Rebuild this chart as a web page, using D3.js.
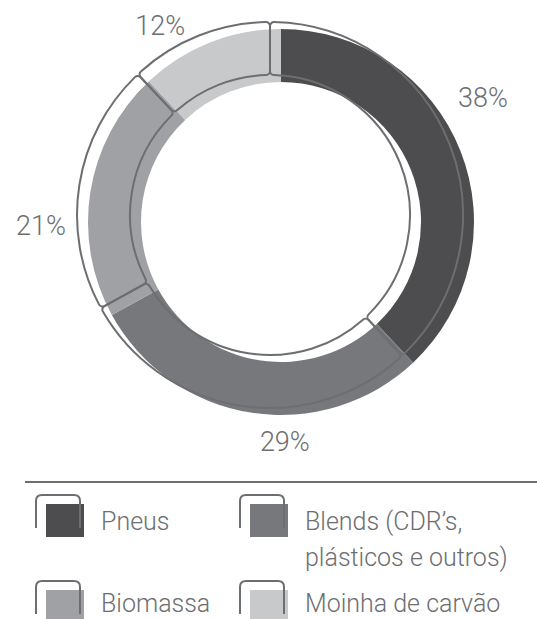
<!DOCTYPE html>
<html><head><meta charset="utf-8">
<script src="https://cdn.jsdelivr.net/npm/d3@7/dist/d3.min.js"></script>
<style>
html,body{margin:0;padding:0;background:#fff;}
svg{display:block;}
text{font-family:Roboto,sans-serif;font-weight:300;fill:#6d6e71;}
</style></head>
<body><svg id="c" width="537" height="619"></svg>
<script>
const categories = ["Pneus", "Blends (CDR’s, plásticos e outros)", "Biomassa", "Moinha de carvão"];
const legendLines = [["Pneus"], ["Blends (CDR’s,", "plásticos e outros)"], ["Biomassa"], ["Moinha de carvão"]];
const values = [38, 29, 21, 12];
const valueLabels = ["38%", "29%", "21%", "12%"];
const colors = ["#4d4d4f", "#77787b", "#a0a1a4", "#c8c9cb"];

const svg = d3.select("#c");
const cx = 281, cy = 222, R = 193, r = 140;
const stroke = "#6d6e71";
const dx = -11, dy = -7;

const pie = d3.pie().sort(null).value(d => d).startAngle(0).endAngle(2 * Math.PI);
const arcs = pie(values);
const arc = d3.arc().innerRadius(r).outerRadius(R);
const outline = d3.arc().innerRadius(r).outerRadius(R).cornerRadius(4);

const g = svg.append("g").attr("transform", `translate(${cx},${cy})`);
g.selectAll("path.fill").data(arcs).join("path")
  .attr("class", "fill").attr("d", arc).attr("fill", (d, i) => colors[i]);
g.selectAll("path.outline").data(arcs).join("path")
  .attr("class", "outline").attr("d", outline)
  .attr("transform", `translate(${dx},${dy})`)
  .attr("fill", "none").attr("stroke", stroke).attr("stroke-width", 2);

// percentage labels
g.selectAll("text.pct").data(arcs).join("text")
  .attr("class", "pct")
  .each(function (d) {
    const a = (d.startAngle + d.endAngle) / 2 - 10 * Math.PI / 180;
    const rr = 220 + 20 * Math.abs(Math.sin(a));
    d3.select(this).attr("x", rr * Math.sin(a)).attr("y", -rr * Math.cos(a));
  })
  .attr("text-anchor", "middle").attr("dominant-baseline", "central")
  .attr("font-size", 27)
  .text((d, i) => valueLabels[i]);

// divider
svg.append("line").attr("x1", 25).attr("x2", 537).attr("y1", 482).attr("y2", 482)
  .attr("stroke", stroke).attr("stroke-width", 2);

// legend
const colX = [46, 250], rowY = [504, 590], textY = [530, 612];
const lg = svg.selectAll("g.leg").data(categories).join("g").attr("class", "leg")
  .attr("transform", (d, i) => `translate(${colX[i % 2]},${rowY[Math.floor(i / 2)]})`);
lg.append("rect").attr("width", 38).attr("height", 33).attr("fill", (d, i) => colors[i]);
lg.append("path")
  .attr("d", "M-10,24 V-3 Q-10,-9 -4,-9 H28 Q34,-9 34,-3 V24")
  .attr("fill", "none").attr("stroke", stroke).attr("stroke-width", 2);
lg.append("text")
  .attr("y", (d, i) => textY[Math.floor(i / 2)] - rowY[Math.floor(i / 2)])
  .attr("font-size", 25)
  .selectAll("tspan").data((d, i) => legendLines[i]).join("tspan")
  .attr("x", 55).attr("dy", (d, j) => j === 0 ? 0 : 36).text(d => d);
</script></body></html>
